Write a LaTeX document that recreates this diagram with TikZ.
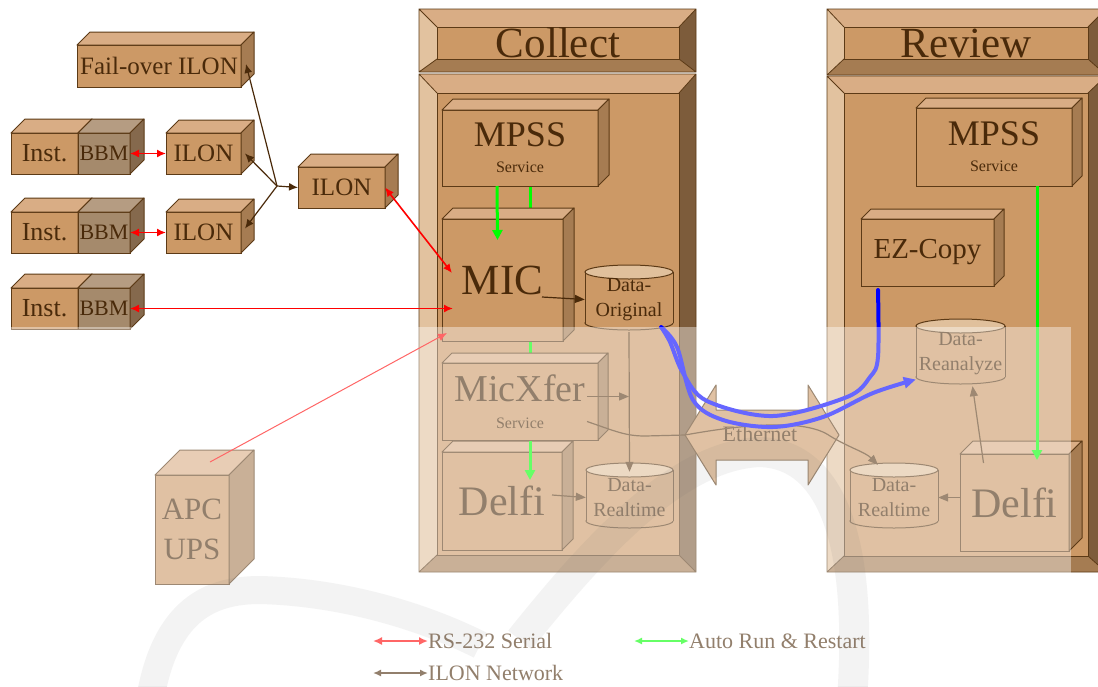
\documentclass[tikz,border=0pt]{standalone}
\usepackage{fontspec}
\setmainfont{Liberation Serif}
\usetikzlibrary{arrows.meta,calc}

% colours
\definecolor{boxface}{HTML}{CC9966}
\definecolor{boxtop}{HTML}{D9AD85}
\definecolor{boxside}{HTML}{A67C52}
\definecolor{bbmface}{HTML}{A58A6C}
\definecolor{bbmtop}{HTML}{B59C82}
\definecolor{bbmside}{HTML}{85694D}
\definecolor{cyltop}{HTML}{E0C09C}
\definecolor{edge}{HTML}{5C3A16}
\definecolor{ink}{HTML}{4A2A0A}
\definecolor{bevtop}{HTML}{D9AD85}
\definecolor{bevleft}{HTML}{E2C29F}
\definecolor{bevright}{HTML}{7D5C3B}
\definecolor{bevbottom}{HTML}{A57C52}

\newcommand{\fsz}[1]{\fontsize{#1}{#1}\selectfont}

\tikzset{
  face/.style={draw=edge, line width=1pt, fill=boxface, text=ink, inner sep=0pt, outer sep=0pt, align=center},
  serial/.style={draw=red, line width=1.6pt, {Latex[length=9pt,width=8pt]}-{Latex[length=9pt,width=8pt]}},
  ilonnet/.style={draw=ink, line width=1.2pt, -{Latex[length=9pt,width=8pt]}},
  autorun/.style={draw=green, line width=3pt, -{Triangle[length=10pt,width=10pt]}},
  link/.style={draw=edge, line width=1.2pt, -{Triangle[length=10pt,width=8pt]}},
  handdrawn/.style={draw=blue, line width=4pt, line cap=round, line join=round},
  legauto/.style={draw=green, line width=2pt, {Latex[length=8pt,width=7pt]}-{Latex[length=8pt,width=7pt]}},
  legnet/.style={draw=ink, line width=2pt, {Latex[length=8pt,width=7pt]}-{Latex[length=8pt,width=7pt]}},
  legend/.style={text=ink, inner sep=0pt, font=\fsz{22}},
}

% 3d box: [options] name, x1, y1, x2, y2, depth, text
\newcommand{\cube}[8][]{%
  \node[face, minimum width={#5-#3}, minimum height={#6-#4}, #1] (#2) at ({(#3+#5)/2},{(#4+#6)/2}) {#8};
  \filldraw[draw=edge, line width=1pt, fill=boxtop, line join=round]
    (#2.north west) -- ++(#7,-#7) -- ($(#2.north east)+(#7,-#7)$) -- (#2.north east) -- cycle;
  \filldraw[draw=edge, line width=1pt, fill=boxside, line join=round]
    (#2.north east) -- ++(#7,-#7) -- ($(#2.south east)+(#7,-#7)$) -- (#2.south east) -- cycle;
}

% data store: name, x1, ytop, x2, ybottom, text
\newcommand{\cyl}[6]{%
  \filldraw[draw=edge, line width=1pt, fill=boxface] ({(#2+#4)/2},#5-7) ellipse [x radius={(#4-#2)/2}, y radius=7];
  \fill[boxface] (#2,#3+7) rectangle (#4,#5-7);
  \draw[edge, line width=1pt] (#2,#3+7) -- (#2,#5-7) (#4,#3+7) -- (#4,#5-7);
  \filldraw[draw=edge, line width=1pt, fill=cyltop] ({(#2+#4)/2},#3+7) ellipse [x radius={(#4-#2)/2}, y radius=7];
  \node[text=ink, align=center, inner sep=0pt, font=\fsz{20}, minimum width={#4-#2}, minimum height={#5-#3}] (#1) at ({(#2+#4)/2},{(#3+#5)/2+2}) {#6};
}

% bevelled frame: outer x1 y1 x2 y2, inner x1 y1 x2 y2
\newcommand{\bevelframe}[8]{%
  \fill[bevtop] (#1,#2) -- (#3,#2) -- (#7,#6) -- (#5,#6) -- cycle;
  \fill[bevleft] (#1,#2) -- (#5,#6) -- (#5,#8) -- (#1,#4) -- cycle;
  \fill[bevright] (#3,#2) -- (#7,#6) -- (#7,#8) -- (#3,#4) -- cycle;
  \fill[bevbottom] (#1,#4) -- (#5,#8) -- (#7,#8) -- (#3,#4) -- cycle;
  \draw[edge, line width=0.8pt] (#1,#2) rectangle (#3,#4)
    (#1,#2) -- (#5,#6) (#3,#2) -- (#7,#6) (#1,#4) -- (#5,#8) (#3,#4) -- (#7,#8);
}

\begin{document}
\begin{tikzpicture}[x=1pt, y=-1pt]
    \useasboundingbox (0,0) rectangle (1098,686);
    \clip (0,0) rectangle (1098,686);
    \fill[white] (0,0) rectangle (1098,686);

    % Panels
    \bevelframe{419}{9}{696}{72}{437}{27}{679}{59}
    \node[face, minimum width=242, minimum height=32] (CollectHead) at (558,43) {\fsz{43}Collect};
    \bevelframe{419}{74}{696}{572}{437}{93}{679}{555}
    \node[face, minimum width=242, minimum height=462] (CollectBody) at (558,324) {};

    \bevelframe{827}{9}{1106}{75}{844}{27}{1088}{59}
    \node[face, minimum width=244, minimum height=32] (ReviewHead) at (966,43) {\fsz{43}Review};
    \bevelframe{827}{76}{1106}{572}{844}{93}{1088}{556}
    \node[face, minimum width=244, minimum height=463] (ReviewBody) at (966,324.5) {};

    % Ethernet
    \filldraw[draw=edge, line width=1pt, fill=boxface, line join=round]
        (685,435) -- (716,385) -- (716,410) -- (808,410) -- (808,385) -- (839,435)
        -- (808,485) -- (808,460) -- (716,460) -- (716,485) -- cycle;
    \node[text=ink, inner sep=0pt] (eth) at (760,434) {\fsz{22}Ethernet};

    % ILON side
    \cube{Failover}{77}{45}{241}{87}{13}{\fsz{25}Fail-over ILON}
    \foreach \i/\y in {1/133,2/212,3/288} {
        \cube{Inst-\i}{11}{\y}{78}{\y+41}{14}{\fsz{26}Inst.}
        \begin{scope}
            \colorlet{boxface}{bbmface}\colorlet{boxtop}{bbmtop}\colorlet{boxside}{bbmside}
            \cube{BBM-\i}{78}{\y}{130}{\y+41}{14}{\fsz{22}BBM}
        \end{scope}
    }
    \foreach \i/\y in {1/133,2/212} {
        \cube{ILON-\i}{166}{\y}{241}{\y+41}{13}{\fsz{25}ILON}
    }
    \cube{ILON-C}{298}{167}{385}{208}{13}{\fsz{25}ILON}
    \coordinate (hub) at (277,186);

    % Collect
    \cube[font=\fsz{42}]{Delfi}{442}{452}{562}{550}{11}{Delfi}
    \cyl{DataReal}{586}{463}{673}{528}{Data-\\[5pt]Realtime}
    \draw[autorun] (530,186) -- ([xshift=28pt,yshift=-28pt]Delfi.north);
    \cube[font=\fsz{36}]{MPSS}{442}{110}{598}{186}{11}{MPSS\\[-10pt]{\fsz{16}Service}}
    \cube[font=\fsz{43}]{MIC}{442}{219}{563}{341}{11}{MIC}
    \cyl{DataOrig}{585}{265}{673}{330}{Data-\\[5pt]Original}
    \cube[font=\fsz{38}]{MicXfer}{442}{363}{598}{440}{10}{MicXfer\\[-11pt]{\fsz{16}Service}}

    % Review
    \cube[font=\fsz{36}]{RMPSS}{916}{108}{1072}{186}{10}{MPSS\\[-10pt]{\fsz{16}Service}}
    \cube[font=\fsz{29}]{EZCopy}{861}{219}{994}{286}{10}{EZ-Copy}
    \cyl{RReana}{916}{319}{1005}{384}{Data-\\[5pt]Reanalyze}
    \cube[font=\fsz{42}]{RDelfi}{960}{454}{1069}{551}{13}{Delfi}
    \cyl{RDataReal}{850}{463}{938}{528}{Data-\\[5pt]Realtime}

    % UPS
    \cube[font=\fsz{31}]{APC}{155}{475}{229}{584}{25}{APC\\[9pt]UPS}

    % ILON network
    \draw[ilonnet] (hub) -- ([xshift=5pt,yshift=2pt]Failover.east);
    \foreach \i/\dy in {1/0,2/4} {
        \draw[ilonnet] (hub) -- ([xshift=4pt,yshift=\dy pt]ILON-\i.east);
    }
    \draw[ilonnet] (hub) -- (ILON-C.west);

    % Serial lines
    \foreach \i in {1,2} {
        \draw[serial] (BBM-\i.east) -- (ILON-\i.west);
    }
    \draw[serial] (BBM-3.east) -- ($(BBM-3.east -| MIC.west)+(11,0)$);
    \draw[serial] (ILON-C.east) -- ($(MIC.west)+(10,-7)$);
    \draw[draw=red, line width=1pt, -{Latex[length=9pt,width=8pt]}] ($(APC.north)+(18,-13)$) -- ($(MIC.south west)+(5,-8)$);

    % Data links
    \draw[link, draw=ink] ([xshift=-21pt,yshift=-17pt]MIC.east) -- (DataOrig.west);
    \draw[link] (DataOrig.south) -- ([yshift=-7pt]DataReal.north);
    \draw[link] ([xshift=-11pt,yshift=5pt]MicXfer.east) coordinate (xfer-out) -- (xfer-out -| DataOrig.south);
    \draw[link] ([xshift=-10pt,yshift=6pt]Delfi.east) -- (DataReal.west);
    \draw[link] ($(MicXfer.east)+(-11,20)$) .. controls (615,431) and (625,436) .. (645,436)
        -- (685,435) .. controls (740,425) and (805,418) .. (830,436)
        .. controls (850,448) and (865,452) .. ($(RDataReal.north)+(-16,0)$);
    \draw[link] (RDelfi.west |- RDataReal.east) -- (RDataReal.east);
    \draw[link] ([xshift=-31pt,yshift=-9pt]RDelfi.north) -- ([xshift=12pt]RReana.south);

    % Auto run
    \draw[autorun] ([xshift=-23pt]MPSS.south) -- ([xshift=-5pt,yshift=-21pt]MIC.north);
    \draw[autorun] ([xshift=43pt]RMPSS.south) -- ([xshift=22.5pt,yshift=-6pt]RDelfi.north);

    % Copy paths
    \draw[handdrawn] plot[smooth, tension=0.55] coordinates {([xshift=-12pt,yshift=5pt]DataOrig.south east)
        (670,342) (683,373) (707,401) (773,416) (847,397) (870,377) (878,357)
        ([xshift=17pt,yshift=-4pt]EZCopy.south west)};
    \draw[handdrawn, -{Triangle[length=12pt,width=11pt]}] plot[smooth, tension=0.55] coordinates {([xshift=-12pt,yshift=5pt]DataOrig.south east)
        (677,347) (693,400) (723,420) (773,427) (823,417) (873,393)
        ([yshift=-26pt]RReana.west)};

    % Legend
    \foreach \name/\sty/\x/\y/\txt in {rs/serial/428/641/RS-232 Serial,auto/legauto/689/641/Auto Run \& Restart,net/legnet/428/673/ILON Network} {
        \node[legend, anchor=west] (leg-\name) at (\x,\y) {\txt};
        \draw[\sty] ($(leg-\name.west)+(-55,0)$) -- (leg-\name.west);
    }

    % Watermark
    \begin{scope}[opacity=0.08]
        \draw[black, line width=28pt] (150,700) .. controls (165,610) and (210,590) .. (260,590)
            .. controls (340,592) and (420,615) .. (480,645);
        \draw[black, line width=30pt] (520,640) .. controls (600,540) and (680,455) .. (760,452)
            .. controls (840,455) and (862,560) .. (852,700);
    \end{scope}

    % Fade
    \fill[white, opacity=0.4] (0,327) rectangle (1071,686);
\end{tikzpicture}
\end{document}
